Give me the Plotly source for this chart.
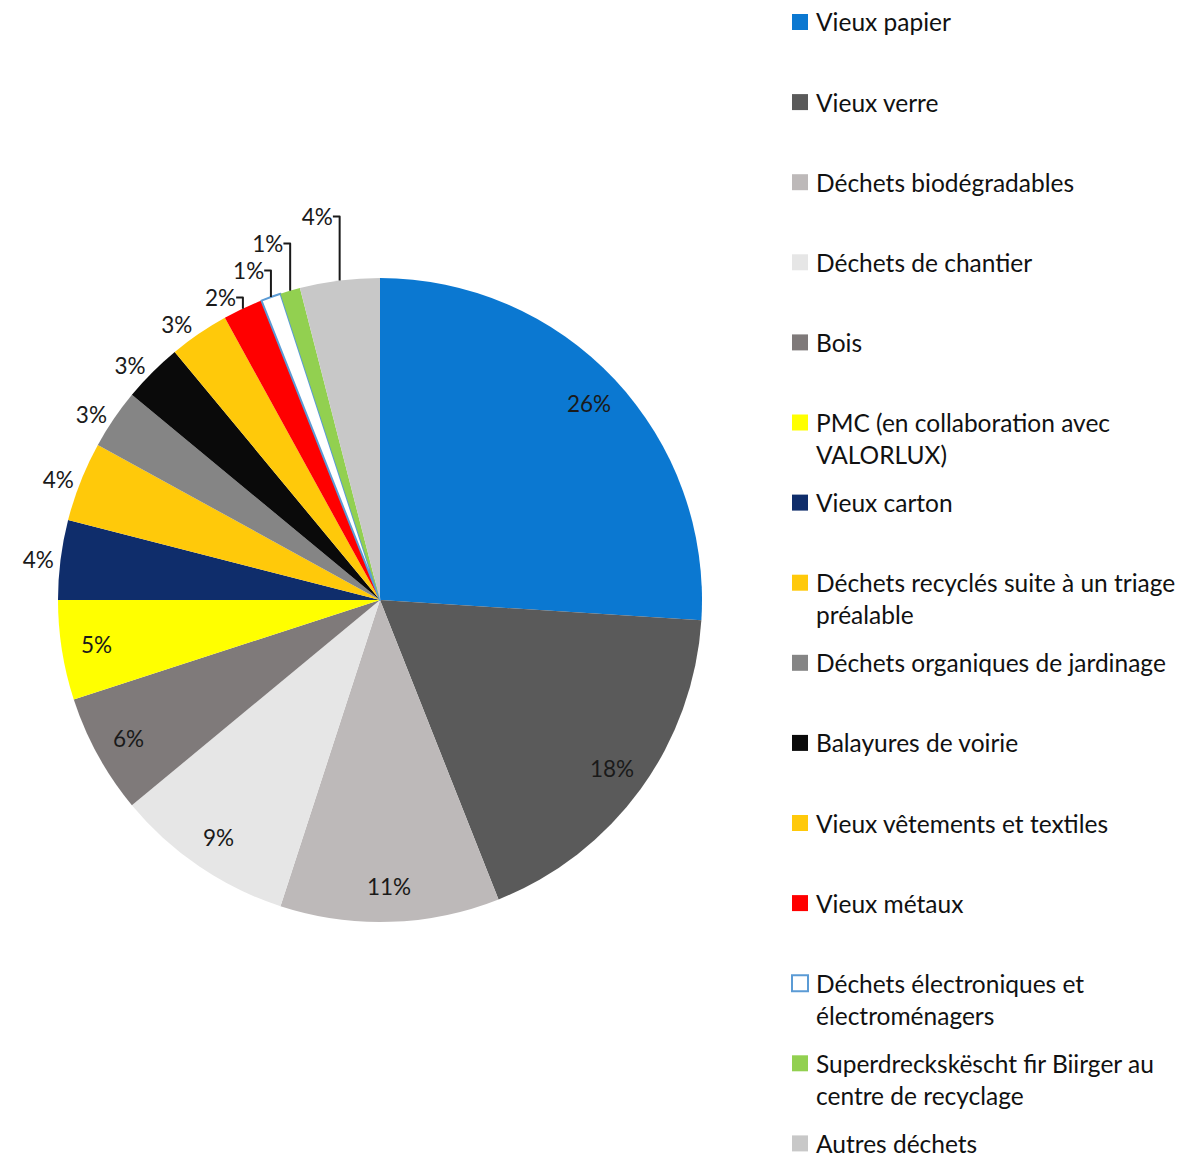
import math
import plotly.graph_objects as go

labels = [
    "Vieux papier",
    "Vieux verre",
    "Déchets biodégradables",
    "Déchets de chantier",
    "Bois",
    "PMC (en collaboration avec<br>VALORLUX)",
    "Vieux carton",
    "Déchets recyclés suite à un triage<br>préalable",
    "Déchets organiques de jardinage",
    "Balayures de voirie",
    "Vieux vêtements et textiles",
    "Vieux métaux",
    "Déchets électroniques et<br>électroménagers",
    "Superdreckskëscht fir Biirger au<br>centre de recyclage",
    "Autres déchets",
]
values = [26, 18, 11, 9, 6, 5, 4, 4, 3, 3, 3, 2, 1, 1, 4]
colors = [
    "#0B78D1", "#5A5A5A", "#BDB9B9", "#E6E6E6", "#7F7A7A",
    "#FFFF00", "#0F2D6B", "#FFC90A", "#858585", "#0A0A0A",
    "#FFC90A", "#FF0000", "#FFFFFF", "#92D050", "#C8C8C8",
]
line_colors = ["rgba(0,0,0,0)"] * 12 + ["#5B9BD5"] + ["rgba(0,0,0,0)"] * 2
line_widths = [0] * 12 + [2] + [0] * 2
inside = [True] * 6 + [False] * 9

W, H = 1185, 1160
OFF = 8  # page body margin in the browser
FONT = "Lato, Carlito, Calibri, sans-serif"
LABEL_SIZE = 22.5

# pie geometry (page pixels)
cx, cy, r = 380 - OFF, 600 - OFF, 322

fig = go.Figure()
fig.add_trace(go.Pie(
    labels=[l.replace("<br>", " ") for l in labels],
    values=values,
    sort=False,
    direction="clockwise",
    rotation=0,
    marker=dict(colors=colors, line=dict(color=line_colors, width=line_widths)),
    texttemplate=["" if ins else "%{percent:.0%}" for ins in inside],
    textposition=["inside" if ins else "outside" for ins in inside],
    insidetextorientation="horizontal",
    textfont=dict(family=FONT, size=LABEL_SIZE, color="#1A1A1A"),
    showlegend=False,
    hoverinfo="label+percent",
    domain=dict(x=[(cx - r) / W, (cx + r) / W], y=[1 - (cy + r) / H, 1 - (cy - r) / H]),
))

# inside percentage labels placed near the rim, like the original
total = sum(values)
cum = 0
for v, ins in zip(values, inside):
    mid = (cum + v / 2) / total * 2 * math.pi
    cum += v
    if not ins:
        continue
    rr = 0.89 * r
    px = cx + rr * math.sin(mid)
    py = cy - rr * math.cos(mid)
    fig.add_annotation(
        x=px / W, y=1 - py / H, xref="paper", yref="paper",
        text=f"{round(v / total * 100)}%", showarrow=False,
        xanchor="center", yanchor="middle",
        font=dict(family=FONT, size=LABEL_SIZE, color="#1A1A1A"),
    )

# legend drawn as text + swatches, positions computed from item index
leg_x_box, leg_box = 792 - OFF, 16
leg_x_text = 815 - OFF
leg_y0, leg_step, line_h = 22 - OFF, 80.1, 32
for i, (lab, col) in enumerate(zip(labels, colors)):
    yc = leg_y0 + i * leg_step
    fig.add_shape(
        type="rect", xref="paper", yref="paper",
        x0=leg_x_box / W, x1=(leg_x_box + leg_box) / W,
        y0=1 - (yc + leg_box / 2) / H, y1=1 - (yc - leg_box / 2) / H,
        fillcolor=col,
        line=dict(color=line_colors[i] if line_widths[i] else col, width=2 if line_widths[i] else 0),
    )
    for j, part in enumerate(lab.split("<br>")):
        fig.add_annotation(
            x=leg_x_text / W, y=1 - (yc + j * line_h) / H, xref="paper", yref="paper",
            text=part, showarrow=False, xanchor="left", yanchor="middle",
            borderpad=0,
            font=dict(family=FONT, size=24.5, color="#111111"),
        )

fig.update_layout(
    width=W, height=H,
    margin=dict(l=0, r=0, t=0, b=0),
    paper_bgcolor="white",
    plot_bgcolor="white",
)
fig.write_html("out.html")
